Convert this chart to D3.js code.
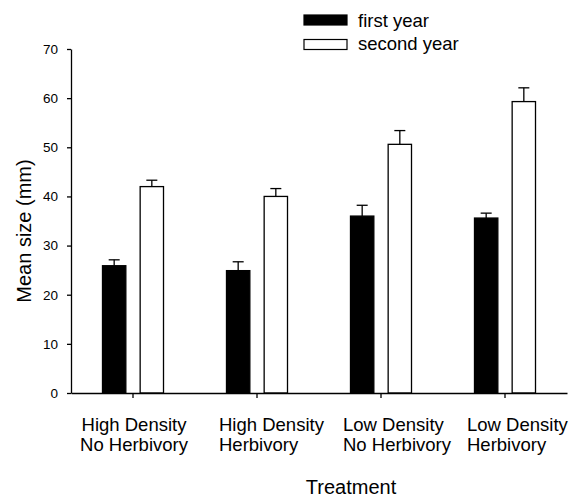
<!DOCTYPE html>
<html><head><meta charset="utf-8">
<script src="https://cdn.jsdelivr.net/npm/d3@7"></script>
<style>body{margin:0;background:#fff}svg{display:block}text{font-family:"Liberation Sans",Arial,sans-serif;fill:#000}</style>
</head><body><svg id="c" width="569" height="498"></svg>
<script>
const categories = [["High Density","No Herbivory"],["High Density","Herbivory"],["Low Density","No Herbivory"],["Low Density","Herbivory"]];
const seriesNames = ["first year","second year"];
const firstYear = [25.9, 24.9, 36.0, 35.6];
const firstYearErr = [1.2, 1.8, 2.2, 1.0];
const secondYear = [42.0, 40.0, 50.6, 59.3];
const secondYearErr = [1.3, 1.6, 2.8, 2.8];
const yTicks = [0,10,20,30,40,50,60,70];

(function(){
const svg = d3.select("#c");
const mLeft = 71, mRight = 567, mTop = 49, mBottom = 393;
const catKeys = categories.map(c => c.join(" "));
const x0 = d3.scaleBand().domain(catKeys).range([mLeft, mRight]).paddingInner(0.508).paddingOuter(0.254);
const x1 = d3.scaleBand().domain(seriesNames).range([0, x0.bandwidth()]).paddingInner(0.38);
const y = d3.scaleLinear().domain([0,70]).range([mBottom, mTop]);

const data = catKeys.map((k,i)=>[
  {cat:k, s:seriesNames[0], v:firstYear[i], e:firstYearErr[i]},
  {cat:k, s:seriesNames[1], v:secondYear[i], e:secondYearErr[i]}
]).flat();

// error bars
const eb = svg.append("g").attr("stroke","#000").attr("stroke-width",1.3);
data.forEach(d=>{
  const cx = x0(d.cat)+x1(d.s)+x1.bandwidth()/2;
  eb.append("line").attr("x1",cx).attr("x2",cx).attr("y1",y(d.v)).attr("y2",y(d.v+d.e));
  eb.append("line").attr("x1",cx-5.5).attr("x2",cx+5.5).attr("y1",y(d.v+d.e)).attr("y2",y(d.v+d.e));
});
// bars
svg.append("g").selectAll("rect").data(data).join("rect")
  .attr("x", d=>x0(d.cat)+x1(d.s)).attr("width", x1.bandwidth())
  .attr("y", d=>y(d.v)).attr("height", d=>y(0)-y(d.v))
  .attr("fill", d=>d.s===seriesNames[0]?"#000":"#fff")
  .attr("stroke","#000").attr("stroke-width",1.3);

// y axis
const ya = svg.append("g").attr("transform",`translate(${mLeft},0)`)
  .call(d3.axisLeft(y).tickValues(yTicks).tickSize(4).tickPadding(9).tickSizeOuter(0));
ya.selectAll("text").style("font-size","13.5px").attr("font-family","Liberation Sans, Arial, sans-serif");
ya.selectAll("line,path").attr("stroke","#000").attr("stroke-width",1.3);

// x axis
const xa = svg.append("g").attr("transform",`translate(0,${mBottom})`)
  .call(d3.axisBottom(x0).tickSize(5).tickSizeOuter(0).tickFormat(""));
xa.selectAll("line,path").attr("stroke","#000").attr("stroke-width",1.3);

// category labels
categories.forEach((c,i)=>{
  const cx = x0(catKeys[i]) + x0.bandwidth()/2;
  const tx = i===0 ? cx+1 : cx-38;
  const t = svg.append("text").style("font-size","18.5px")
    .attr("text-anchor", i===0 ? "middle" : "start")
    .attr("x", tx).attr("y", 431);
  c.forEach((line,j)=>{
    t.append("tspan").attr("x", tx).attr("dy", j===0?0:19.5).text(line);
  });
});

// axis titles
svg.append("text").attr("x", 351).attr("y", 494).attr("text-anchor","middle").style("font-size","20px").text("Treatment");
svg.append("text").attr("transform","translate(31,231) rotate(-90)").attr("text-anchor","middle").style("font-size","20px").text("Mean size (mm)");

// legend
const lg = svg.append("g");
seriesNames.forEach((s,i)=>{
  lg.append("rect").attr("x",304).attr("y",15+i*24.5).attr("width",43).attr("height",10)
    .attr("fill", i===0?"#000":"#fff").attr("stroke","#000").attr("stroke-width",1.2);
  lg.append("text").attr("x",358).attr("y",26.5+i*23).style("font-size","18.5px").text(s);
});
})();
</script></body></html>
